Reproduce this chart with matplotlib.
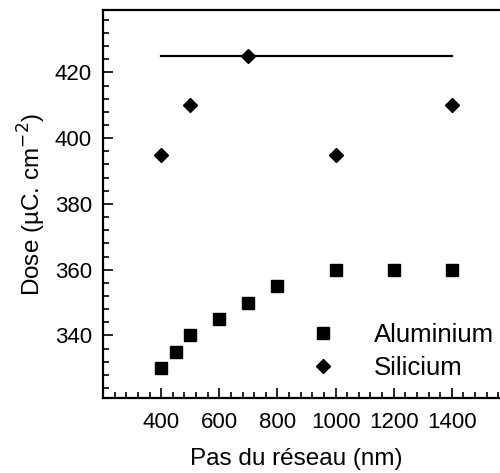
import numpy as np
import matplotlib
matplotlib.use('Agg')
import matplotlib.pyplot as plt
from matplotlib.ticker import MultipleLocator, FixedLocator

plt.rcParams['font.family'] = ['Liberation Sans', 'DejaVu Sans']

# Aluminium
al_pitch = [400, 450, 500, 600, 700, 800, 1000, 1200, 1400]
al_dose = [330, 335, 340, 345, 350, 355, 360, 360, 360]

# Silicium
si_pitch = [400, 500, 700, 1000, 1400]
si_dose = [395, 410, 425, 395, 410]

# horizontal reference line
line_pitch = [400, 700, 800, 1000, 1200, 1400]
line_dose = [425, 425, 425, 425, 425, 425]

x_labels = [400, 600, 800, 1000, 1200, 1400]

fig = plt.figure(figsize=(5.0, 4.73), dpi=100)
ax = fig.add_axes([0.206, 0.1586, 0.814, 0.8205])

ax.plot(line_pitch, line_dose, color='black', lw=1.6)
ax.plot(al_pitch, al_dose, 's', color='black', ms=8, ls='none', label='Aluminium')
ax.plot(si_pitch, si_dose, 'D', color='black', ms=7.5, ls='none', label='Silicium')

ax.set_xlim(200, 1600)
ax.set_ylim(321, 439)

ax.xaxis.set_major_locator(FixedLocator(x_labels))
ax.xaxis.set_minor_locator(MultipleLocator(40))
ax.yaxis.set_major_locator(MultipleLocator(20))
ax.yaxis.set_minor_locator(MultipleLocator(4))
ax.tick_params(which='both', direction='in', top=False, right=False, width=1.2)
ax.tick_params(which='major', length=7.5, labelsize=16)
ax.tick_params(axis='x', which='major', pad=10)
ax.tick_params(axis='y', which='major', pad=8)
ax.tick_params(which='minor', length=4)
for s in ax.spines.values():
    s.set_linewidth(1.6)

ax.set_xlabel('Pas du réseau (nm)', fontsize=17.5)
ax.set_ylabel('Dose (µC. cm$^{-2}$)', fontsize=17.5)
ax.xaxis.set_label_coords(0.475, -0.13)
ax.yaxis.set_label_coords(-0.135, 0.5)

ax.legend(loc='lower right', bbox_to_anchor=(0.985, 0.02), frameon=False,
          fontsize=18.5, handletextpad=1.35, labelspacing=0.35, handlelength=1.2,
          borderaxespad=0)

fig.savefig('out.png', dpi=100)
